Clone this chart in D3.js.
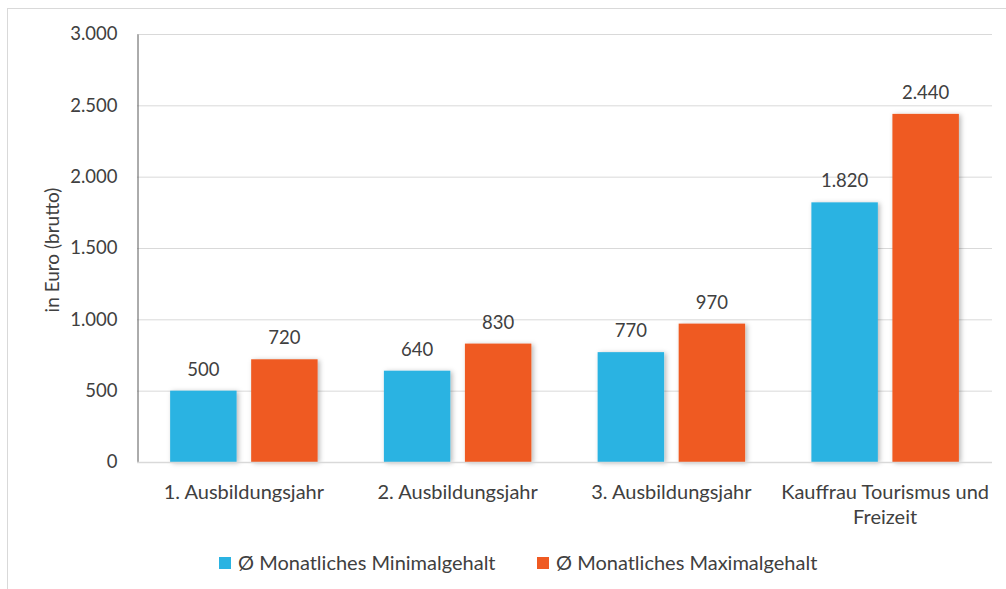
<!DOCTYPE html>
<html><head><meta charset="utf-8">
<script src="https://cdn.jsdelivr.net/npm/d3@7"></script>
<style>body{margin:0;background:#fff}svg{display:block}text{font-family:"Lato","Noto Sans",sans-serif;fill:#404040}</style>
</head><body><svg id="c" width="1006" height="589"></svg>
<script>
const categories = [["1. Ausbildungsjahr"],["2. Ausbildungsjahr"],["3. Ausbildungsjahr"],["Kauffrau Tourismus und","Freizeit"]];
const seriesNames = ["Ø Monatliches Minimalgehalt","Ø Monatliches Maximalgehalt"];
const minValues = [500,640,770,1820];
const maxValues = [720,830,970,2440];
const yTicks = [0,500,1000,1500,2000,2500,3000];
const colors = ["#2AB3E2","#EF5A22"];

const svg = d3.select("#c");
const defs = svg.append("defs");
const f = defs.append("filter").attr("id","sh").attr("x","-20%").attr("y","-20%").attr("width","150%").attr("height","150%");
f.append("feDropShadow").attr("dx",2).attr("dy",1).attr("stdDeviation",2.5).attr("flood-color","#000").attr("flood-opacity",0.28);

svg.append("rect").attr("x",7.5).attr("y",8.5).attr("width",1010).attr("height",600).attr("fill","none").attr("stroke","#d9d9d9");

const x0 = d3.scaleBand().domain(d3.range(categories.length)).range([137,992]).paddingInner(0.31).paddingOuter(0.155);
const x1 = d3.scaleBand().domain([0,1]).range([0,x0.bandwidth()]).paddingInner(0.18);
const y = d3.scaleLinear().domain([0,3000]).range([462,34]);
const fmt = v => d3.format(",")(v).replace(/,/g,".");

svg.append("g").selectAll("line").data(yTicks.filter(d=>d>0)).join("line")
  .attr("x1",137).attr("x2",992).attr("y1",d=>y(d)+0.5).attr("y2",d=>y(d)+0.5).attr("stroke","#d9d9d9");

const yAxis = svg.append("g").attr("transform","translate(137.5,0)")
  .call(d3.axisLeft(y).tickValues(yTicks).tickFormat(fmt).tickSize(0).tickPadding(20));
yAxis.select(".domain").attr("stroke","#595959");
yAxis.selectAll("text").attr("font-size",18.5).style("fill","#404040").style("font-family",'"Lato","Noto Sans",sans-serif');

const series = [minValues,maxValues];
series.forEach((vals,si)=>{
  svg.append("g").selectAll("rect").data(vals).join("rect")
    .attr("x",(d,i)=>x0(i)+x1(si)).attr("width",x1.bandwidth())
    .attr("y",d=>y(d)).attr("height",d=>y(0)-y(d))
    .attr("fill",colors[si]).attr("filter","url(#sh)");
  svg.append("g").selectAll("text").data(vals).join("text")
    .attr("x",(d,i)=>x0(i)+x1(si)+x1.bandwidth()/2).attr("y",d=>y(d)-15)
    .attr("text-anchor","middle").attr("font-size",18.5).text(fmt);
});

svg.append("line").attr("x1",137).attr("x2",992).attr("y1",462.5).attr("y2",462.5).attr("stroke","#d9d9d9").attr("stroke-width",1.5);

svg.append("g").selectAll("text").data(categories).join("text")
  .attr("text-anchor","middle").attr("font-size",20)
  .attr("transform",(d,i)=>`translate(${x0(i)+x0.bandwidth()/2},499)`)
  .each(function(d){ d3.select(this).selectAll("tspan").data(d).join("tspan").attr("x",0).attr("dy",(t,j)=>j?25:0).text(t=>t);});

svg.append("text").attr("transform","translate(59,250) rotate(-90)").attr("text-anchor","middle").attr("font-size",19).text("in Euro (brutto)");

const lg = svg.append("g");
const legX = [219,537];
seriesNames.forEach((n,i)=>{
  lg.append("rect").attr("x",legX[i]).attr("y",557).attr("width",12).attr("height",12).attr("fill",colors[i]);
  lg.append("text").attr("x",legX[i]+19).attr("y",570).attr("font-size",20).text(n);
});
</script></body></html>
